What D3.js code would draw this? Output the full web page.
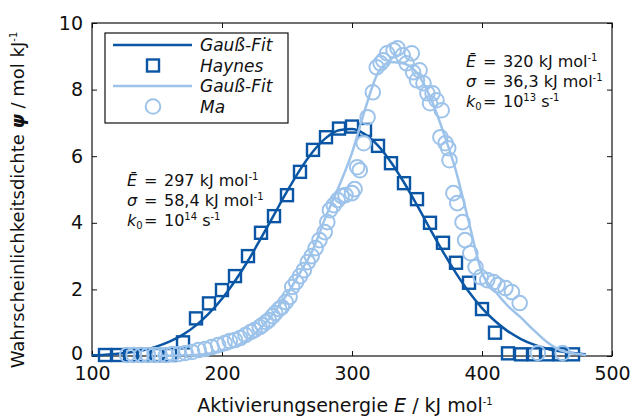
<!DOCTYPE html>
<html>
<head>
<meta charset="utf-8">
<script src="https://cdn.jsdelivr.net/npm/d3@7"></script>
<style>
  body { margin: 0; background: #fff; }
  text { font-family: "DejaVu Sans", sans-serif; fill: #111; }
</style>
</head>
<body>
<div id="chart"></div>
<script>
// Axis ticks
const eTicks = [100, 200, 300, 400, 500];
const psiTicks = [0, 2, 4, 6, 8, 10];

// Haynes measurements (squares)
const haynesE = [110, 120, 130, 140, 150, 160, 170, 180, 190, 200, 210, 220, 230, 240, 250, 260, 270, 280, 290, 300,
                 310, 320, 330, 340, 350, 360, 370, 380, 390, 400, 410, 420, 430, 440, 450, 460, 470];
const haynesPsi = [0.03, 0.03, 0.03, 0.03, 0.03, 0.03, 0.41, 1.13, 1.58, 1.98, 2.40, 3.00, 3.70, 4.20, 4.83, 5.53, 6.19, 6.57, 6.83, 6.89,
                   6.79, 6.31, 5.79, 5.19, 4.71, 4.00, 3.40, 2.80, 2.20, 1.41, 0.70, 0.08, 0.05, 0.05, 0.05, 0.05, 0.05];

// Gauss fit for Haynes
const haynesFitE = [100, 110, 120, 130, 140, 150, 160, 170, 180, 190, 200, 210, 220, 230, 240, 250, 260, 270, 280, 290, 300,
                    310, 320, 330, 340, 350, 360, 370, 380, 390, 400, 410, 420, 430, 440, 450, 460, 470, 480];
const haynesFitPsi = [0.02, 0.04, 0.07, 0.11, 0.18, 0.29, 0.44, 0.64, 0.92, 1.28, 1.72, 2.25, 2.86, 3.54, 4.24, 4.94, 5.59, 6.14, 6.55, 6.78, 6.82,
                      6.66, 6.32, 5.82, 5.21, 4.53, 3.82, 3.13, 2.49, 1.92, 1.44, 1.05, 0.74, 0.51, 0.34, 0.22, 0.14, 0.09, 0.05];

// Ma measurements (circles)
const maE = [127, 132, 138, 143, 148, 152, 157, 162, 167, 172, 177, 182, 187, 192, 197, 202, 206, 210, 214, 218,
             222, 225, 229, 231, 234, 236, 239, 241, 244, 246, 249, 252, 254, 257, 260, 263, 266, 269, 272, 275,
             279, 281, 283, 286, 289, 292, 295, 300, 302, 304, 306, 309, 312, 316, 319, 322, 324, 327, 332, 335,
             339, 342, 346, 347, 352, 350, 355, 358, 362, 360, 365, 369, 368, 372, 374, 375, 378, 381, 385, 387,
             391, 395, 399, 404, 409, 412, 418, 423, 429, 443, 462];
const maPsi = [0.03, 0.03, 0.03, 0.03, 0.03, 0.03, 0.03, 0.06, 0.06, 0.09, 0.12, 0.18, 0.21, 0.27, 0.33, 0.39, 0.45, 0.48, 0.54, 0.63,
               0.72, 0.78, 0.87, 0.93, 1.02, 1.08, 1.20, 1.29, 1.41, 1.47, 1.62, 1.77, 2.07, 2.22, 2.40, 2.58, 2.82, 3.00, 3.24, 3.48,
               3.72, 4.02, 4.38, 4.53, 4.68, 4.80, 4.83, 4.89, 5.01, 5.67, 5.58, 6.39, 7.17, 7.92, 8.67, 8.79, 8.88, 9.09, 9.18, 9.24,
               9.03, 8.79, 9.09, 8.52, 8.58, 8.28, 8.19, 7.89, 7.89, 7.59, 7.68, 7.38, 6.57, 6.39, 6.24, 5.88, 4.89, 4.59, 4.02, 3.48,
               3.09, 2.67, 2.37, 2.28, 2.22, 2.13, 2.04, 1.92, 1.59, 0.09, 0.09];

// Gauss fit for Ma
const maFitE = [150, 170, 190, 200, 210, 220, 230, 240, 250, 260, 270, 280, 290, 300, 310, 320, 330, 340, 350, 360,
                370, 380, 390, 400, 410, 420, 430, 440, 450, 460, 470, 480];
const maFitPsi = [0.0, 0.02, 0.07, 0.15, 0.28, 0.50, 0.85, 1.30, 1.85, 2.50, 3.20, 4.20, 5.10, 6.10, 7.40, 8.50, 8.83, 8.78, 8.50, 7.79,
                  6.75, 5.55, 4.00, 2.50, 1.95, 1.50, 1.15, 0.77, 0.42, 0.18, 0.08, 0.03];

const dark = "#0a56a5", light = "#9dc3ea";

const W = 633, H = 417;
const svg = d3.select("#chart").append("svg")
    .attr("width", W)
    .attr("height", H);

const x = d3.scaleLinear().domain([100, 500]).range([92, 612]);
const y = d3.scaleLinear().domain([0, 10]).range([356, 23]);

// Axes with inward ticks
const gx = svg.append("g")
    .attr("transform", `translate(0,${y(0)})`)
    .call(d3.axisBottom(x).tickValues(eTicks).tickSize(-5).tickPadding(11).tickFormat(d3.format("d")));
const gy = svg.append("g")
    .attr("transform", `translate(${x(100)},0)`)
    .call(d3.axisLeft(y).tickValues(psiTicks).tickSize(-5).tickPadding(9).tickFormat(d3.format("d")));
svg.append("g")
    .attr("transform", `translate(0,${y(10)})`)
    .call(d3.axisTop(x).tickValues(eTicks).tickSize(-5).tickFormat(""));
svg.append("g")
    .attr("transform", `translate(${x(500)},0)`)
    .call(d3.axisRight(y).tickValues(psiTicks).tickSize(-5).tickFormat(""));

svg.selectAll(".domain").remove();
svg.selectAll(".tick line").attr("stroke", "#111");
[gx, gy].forEach(g => g.selectAll("text")
    .style("font-family", "DejaVu Sans, sans-serif")
    .style("font-size", "19px")
    .attr("fill", "#111"));
// lift the "0" a little so it clears the "100" below it
gy.selectAll(".tick").filter(d => d === 0).select("text").attr("dy", "0.2em");

// Frame
svg.append("rect")
    .attr("x", x(100)).attr("y", y(10))
    .attr("width", x(500) - x(100)).attr("height", y(0) - y(10))
    .attr("fill", "none").attr("stroke", "#111").attr("stroke-width", 1.2);

const plot = svg.append("g");

const line = d3.line().curve(d3.curveMonotoneX);

// Haynes fit + data
plot.append("path")
    .attr("d", line(haynesFitE.map((e, i) => [x(e), y(haynesFitPsi[i])])))
    .attr("fill", "none").attr("stroke", dark).attr("stroke-width", 2.5);

plot.selectAll(".sq")
    .data(haynesE.map((e, i) => ({ e, v: haynesPsi[i] })))
    .join("rect")
    .attr("x", d => x(d.e) - 6)
    .attr("y", d => y(d.v) - 6)
    .attr("width", 12).attr("height", 12)
    .attr("fill", "none").attr("stroke", dark).attr("stroke-width", 2.4);

// Ma fit + data
plot.append("path")
    .attr("d", line(maFitE.map((e, i) => [x(e), y(maFitPsi[i])])))
    .attr("fill", "none").attr("stroke", light).attr("stroke-width", 2.5);

plot.selectAll(".ci")
    .data(maE.map((e, i) => ({ e, v: maPsi[i] })))
    .join("circle")
    .attr("cx", d => x(d.e))
    .attr("cy", d => y(d.v))
    .attr("r", 7.3)
    .attr("fill", "none").attr("stroke", light).attr("stroke-width", 2);

// Legend
const lg = svg.append("g");
lg.append("rect").attr("x", 105).attr("y", 33).attr("width", 183).attr("height", 90)
    .attr("fill", "#fff").attr("stroke", "#111").attr("stroke-width", 1.2);
const rows = [
    { label: "Gauß-Fit", color: dark, kind: "line" },
    { label: "Haynes", color: dark, kind: "square" },
    { label: "Gauß-Fit", color: light, kind: "line" },
    { label: "Ma", color: light, kind: "circle" }
];
rows.forEach((r, i) => {
    const cy = 45 + i * 20.5;
    if (r.kind === "line") {
        lg.append("line").attr("x1", 113).attr("x2", 192).attr("y1", cy).attr("y2", cy)
            .attr("stroke", r.color).attr("stroke-width", 2.5);
    } else if (r.kind === "square") {
        lg.append("rect").attr("x", 147).attr("y", cy - 6).attr("width", 12).attr("height", 12)
            .attr("fill", "none").attr("stroke", r.color).attr("stroke-width", 2.4);
    } else {
        lg.append("circle").attr("cx", 153).attr("cy", cy).attr("r", 7.3)
            .attr("fill", "none").attr("stroke", r.color).attr("stroke-width", 2);
    }
    lg.append("text").attr("x", 200).attr("y", cy).attr("dy", "0.36em")
        .style("font-size", "17px").style("font-style", "italic")
        .text(r.label);
});

// Annotations
function annotate(x0, y0, eVal, sVal, kExp) {
    const g = svg.append("g").style("font-size", "16px");
    const lines = [
        { sym: "Ē", val: eVal + " kJ mol", sup: "-1" },
        { sym: "σ", val: sVal + " kJ mol", sup: "-1" },
        { sym: "k", sub: "0", val: "10", sup: kExp, tail: " s", sup2: "-1" }
    ];
    lines.forEach((l, i) => {
        const yy = y0 + i * 20;
        const t = g.append("text").attr("x", x0).attr("y", yy);
        t.append("tspan").style("font-style", "italic").text(l.sym);
        if (l.sub) t.append("tspan").attr("dy", 3).style("font-size", "10px").text(l.sub);
        g.append("text").attr("x", x0 + 17).attr("y", yy).text("=");
        const v = g.append("text").attr("x", x0 + 37).attr("y", yy);
        v.append("tspan").text(l.val);
        v.append("tspan").attr("dy", -6).style("font-size", "10px").text(l.sup);
        if (l.tail) {
            v.append("tspan").attr("dy", 6).text(l.tail);
            v.append("tspan").attr("dy", -6).style("font-size", "10px").text(l.sup2);
        }
    });
}
annotate(127, 186, "297", "58,4", "14");
annotate(466, 67, "320", "36,3", "13");

// Axis titles
const xt = svg.append("text")
    .attr("x", 345).attr("y", 412)
    .attr("text-anchor", "middle")
    .style("font-size", "19px");
xt.append("tspan").text("Aktivierungsenergie ");
xt.append("tspan").style("font-style", "italic").text("E");
xt.append("tspan").text(" / kJ mol");
xt.append("tspan").attr("dy", -7).style("font-size", "10px").text("-1");

const yt = svg.append("text")
    .attr("transform", "translate(24,200) rotate(-90)")
    .attr("text-anchor", "middle")
    .style("font-size", "18px");
yt.append("tspan").text("Wahrscheinlichkeitsdichte ");
yt.append("tspan").style("font-style", "italic").style("font-weight", "bold").text("ψ");
yt.append("tspan").text(" / mol kJ");
yt.append("tspan").attr("dy", -7).style("font-size", "10px").text("-1");
</script>
</body>
</html>
